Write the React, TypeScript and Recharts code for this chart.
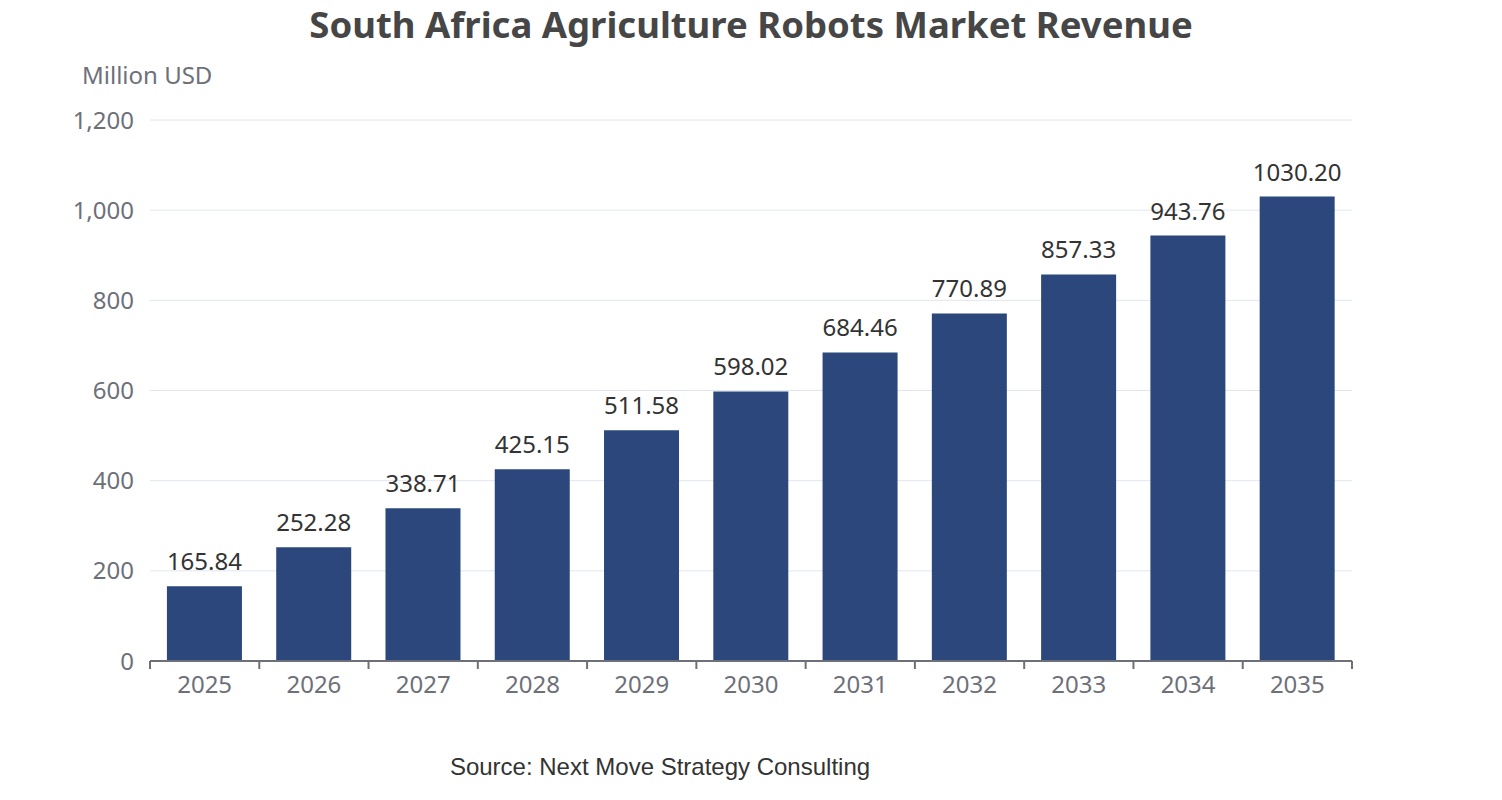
import { Bar, BarChart, CartesianGrid, LabelList, XAxis, YAxis } from 'recharts';

const years = ['2025', '2026', '2027', '2028', '2029', '2030', '2031', '2032', '2033', '2034', '2035'];
const revenue = [165.84, 252.28, 338.71, 425.15, 511.58, 598.02, 684.46, 770.89, 857.33, 943.76, 1030.2];
const yTicks = [0, 200, 400, 600, 800, 1000, 1200];

const data = years.map((year, i) => ({ year, revenue: revenue[i] }));
// boundary ticks between categories, on a 0..10 numeric helper axis
const edgeMax = years.length - 1;
const boundaryTicks = years.map((_, i) => (i * edgeMax) / years.length).concat(edgeMax);

const font = '"Noto Sans", sans-serif';
const axisGray = '#6e7079';

export default function App() {
  return (
    <div style={{ position: 'absolute', left: 0, top: 0, width: 1502, height: 800, background: '#fff' }}>
      <div
        style={{
          position: 'absolute',
          top: 0,
          left: 0,
          width: 1502,
          textAlign: 'center',
          fontFamily: font,
          fontWeight: 700,
          fontSize: 36.5,
          color: '#464646',
          lineHeight: '48px',
        }}
      >
        South Africa Agriculture Robots Market Revenue
      </div>
      <div
        style={{
          position: 'absolute',
          top: 59,
          left: 82,
          fontFamily: font,
          fontSize: 24,
          color: axisGray,
          lineHeight: '32px',
        }}
      >
        Million USD
      </div>
      <BarChart
        width={1502}
        height={800}
        data={data}
        margin={{ top: 120, right: 150, left: 90, bottom: 98 }}
        barCategoryGap="15.5%"
      >
        <CartesianGrid xAxisId="b_cat" vertical={false} stroke="#e0e6f1" />
        <XAxis
          xAxisId="a_edge"
          type="number"
          domain={[0, edgeMax]}
          ticks={boundaryTicks}
          tickFormatter={() => ''}
          height={1}
          axisLine={{ stroke: axisGray, strokeWidth: 2 }}
          tickLine={{ stroke: axisGray, strokeWidth: 2 }}
          tickSize={8}
          allowDataOverflow
        />
        <XAxis
          xAxisId="b_cat"
          dataKey="year"
          height={40}
          axisLine={false}
          tickLine={false}
          tickMargin={8}
          tick={{ fill: axisGray, fontSize: 24, fontFamily: font }}
        />
        <YAxis
          width={60}
          domain={[0, 1200]}
          ticks={yTicks}
          axisLine={false}
          tickLine={false}
          tickMargin={10}
          tickFormatter={(v: number) => v.toLocaleString('en-US')}
          tick={{ fill: axisGray, fontSize: 24, fontFamily: font }}
        />
        <Bar xAxisId="b_cat" dataKey="revenue" fill="#2b477b" isAnimationActive={false}>
          <LabelList
            dataKey="revenue"
            position="top"
            offset={16}
            formatter={(v: number) => v.toFixed(2)}
            fill="#333"
            fontSize={24}
            fontFamily={font}
          />
        </Bar>
      </BarChart>
      <div
        style={{
          position: 'absolute',
          top: 752,
          left: 0,
          width: 1320,
          textAlign: 'center',
          fontFamily: '"Liberation Sans", Arial, sans-serif',
          fontSize: 24,
          color: '#333',
          lineHeight: '30px',
        }}
      >
        Source: Next Move Strategy Consulting
      </div>
    </div>
  );
}
